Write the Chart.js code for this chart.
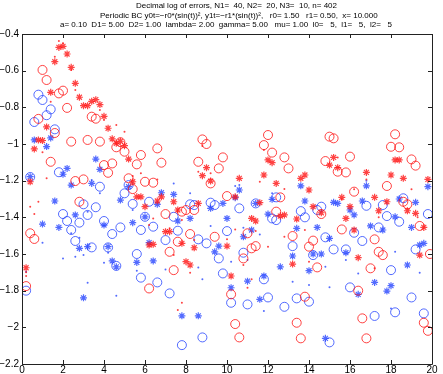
<!DOCTYPE html>
<html>
<head>
<meta charset="utf-8">
<script src="https://cdn.jsdelivr.net/npm/chart.js@4"></script>
<style>
  body { margin: 0; background: #fff; }
  canvas { display: block; }
</style>
</head>
<body>
<canvas id="errChart" width="443" height="374"></canvas>
<script>
// title lines
const titleLines = [
    'Decimal log of errors, N1=  40, N2=  20, N3=  10, n= 402',
    'Periodic BC y0t=\u2212r0*(sin(t))\u00B2, y1t=\u2212r1*(sin(t))\u00B2,   r0= 1.50   r1= 0.50,  x= 10.000',
    'a= 0.10  D1= 5.00  D2= 1.00  lambda= 2.00  gamma= 5.00   mu= 1.00  l0=   5,  l1=   5,  l2=   5'
];

const xTicks = [0, 2, 4, 6, 8, 10, 12, 14, 16, 18, 20];
const yTicks = [-0.4, -0.6, -0.8, -1, -1.2, -1.4, -1.6, -1.8, -2, -2.2];

// red circles
const redCircles = [[0.2,-1.775],[0.4,-1.487],[0.6,-1.518],[0.8,-0.863],[1.0,-0.596],[1.2,-0.651],[1.4,-1.097],[1.6,-0.94],[1.8,-0.724],[2.0,-0.709],[2.2,-0.803],[2.4,-0.987],[2.6,-1.202],[2.8,-1.315],[3.0,-1.193],[3.2,-0.978],[3.4,-0.851],[3.6,-0.862],[3.8,-0.987],[4.0,-1.115],[4.2,-1.157],[4.4,-1.106],[4.6,-1.018],[4.8,-0.99],[5.0,-1.042],[5.2,-1.187],[5.4,-1.246],[5.6,-1.111],[5.8,-1.06],[6.0,-1.206],[6.2,-1.788],[6.4,-1.211],[6.6,-1.024],[6.8,-1.102],[7.0,-1.382],[7.2,-1.588],[7.4,-1.688],[7.6,-1.533],[7.8,-1.369],[8.0,-1.36],[8.2,-1.491],[8.4,-1.36],[8.6,-1.097],[8.8,-0.975],[9.0,-1.0],[9.2,-1.215],[9.4,-1.506],[9.6,-1.133],[9.8,-1.073],[10.0,-1.284],[10.2,-1.82],[10.4,-1.982],[10.6,-2.055],[10.8,-1.624],[11.0,-1.487],[11.2,-1.569],[11.4,-1.557],[11.8,-1.006],[12.0,-0.951],[12.2,-1.047],[12.4,-1.369],[12.6,-1.291],[12.8,-1.073],[13.0,-1.133],[13.2,-1.502],[13.4,-1.975],[13.6,-2.06],[13.8,-1.833],[14.0,-1.56],[14.2,-1.527],[14.4,-1.673],[14.6,-1.382],[14.8,-1.093],[15.0,-0.96],[15.2,-0.969],[15.4,-1.151],[15.6,-1.466],[15.8,-1.155],[16.0,-1.069],[16.2,-1.26],[16.4,-1.80],[16.6,-1.951],[16.8,-2.06],[17.0,-1.678],[17.2,-1.52],[17.4,-1.588],[17.6,-1.606],[17.8,-1.229],[18.0,-1.015],[18.2,-0.947],[18.4,-1.018],[18.6,-1.315],[18.8,-1.329],[19.0,-1.084],[19.2,-1.118],[19.4,-1.447],[19.6,-1.975],[19.8,-2.019],[19.9,-1.6]];

// red stars
const redStars = [[0.2,-1.675],[0.4,-1.206],[0.6,-1.027],[0.8,-0.978],[1.0,-0.981],[1.2,-0.907],[1.4,-0.718],[1.6,-0.551],[1.8,-0.473],[2.0,-0.467],[2.2,-0.509],[2.4,-0.582],[2.6,-0.669],[2.8,-0.745],[3.0,-0.791],[3.2,-0.791],[3.4,-0.767],[3.6,-0.758],[3.8,-0.785],[4.0,-0.849],[4.2,-0.914],[4.4,-0.972],[4.6,-0.996],[4.8,-0.985],[5.0,-1.009],[5.2,-1.082],[5.4,-1.206],[5.6,-1.288],[5.8,-1.288],[6.0,-1.342],[6.2,-1.551],[6.4,-1.547],[6.6,-1.311],[6.8,-1.288],[7.0,-1.478],[7.2,-1.478],[7.4,-1.315],[7.6,-1.36],[7.8,-1.542],[8.0,-1.642],[8.2,-1.66],[8.4,-1.566],[8.6,-1.324],[8.8,-1.173],[9.0,-1.129],[9.2,-1.202],[10.0,-1.557],[10.2,-1.72],[10.4,-1.288],[10.6,-1.187],[11.2,-1.406],[11.4,-1.42],[11.6,-1.32],[11.8,-1.169],[12.0,-1.087],[12.2,-1.102],[12.4,-1.215],[12.6,-1.393],[12.8,-1.387],[13.2,-1.655],[13.4,-1.409],[13.6,-1.187],[13.8,-1.169],[14.0,-1.251],[14.2,-1.342],[14.6,-1.375],[15.0,-1.115],[15.2,-1.073],[15.4,-1.129],[15.6,-1.291],[15.8,-1.406],[16.0,-1.342],[16.2,-1.469],[16.4,-1.62],[16.8,-1.155],[17.2,-1.291],[17.4,-1.364],[17.8,-1.315],[18.0,-1.169],[18.2,-1.087],[18.4,-1.087],[18.6,-1.187],[18.8,-1.364],[19.2,-1.378],[19.4,-1.606],[19.6,-1.455],[19.8,-1.193]];

// red dots
const redDots = [[0.2,-1.70],[0.2,-1.72],[0.4,-1.342],[0.6,-1.382],[0.8,-1.315],[1.0,-1.045],[1.2,-1.187],[1.4,-0.769],[1.6,-0.524],[1.8,-0.438],[2.0,-0.451],[2.4,-0.596],[2.6,-0.706],[3.8,-0.815],[4.0,-0.869],[4.6,-0.896],[5.0,-0.933],[5.4,-1.175],[5.8,-1.16],[6.2,-1.442],[6.4,-1.406],[6.6,-1.193],[7.2,-1.46],[7.4,-1.606],[7.6,-1.906],[7.8,-1.415],[7.8,-1.866],[8.2,-1.702],[8.4,-1.524],[8.6,-1.151],[8.8,-1.011],[9.2,-1.16],[10.0,-1.52],[10.4,-1.466],[10.8,-1.66],[11.0,-1.784],[11.2,-1.738],[11.4,-1.475],[11.6,-1.206],[11.8,-1.033],[12.0,-1.56],[12.8,-1.246],[12.8,-1.506],[13.8,-1.469],[14.0,-1.642],[15.4,-1.073],[15.6,-1.302],[16.2,-1.247],[16.8,-1.193],[17.2,-1.678],[17.4,-1.4],[19.0,-1.247],[19.3,-1.4]];

// blue circles
const blueCircles = [[0.2,-1.80],[0.4,-1.18],[0.6,-0.88],[0.8,-0.731],[1.0,-0.76],[1.2,-0.843],[1.4,-0.811],[1.6,-0.92],[1.8,-1.154],[2.0,-1.382],[2.2,-1.42],[2.4,-1.469],[2.6,-1.529],[2.8,-1.429],[3.0,-1.329],[3.2,-1.387],[3.4,-1.564],[3.6,-1.345],[3.8,-1.233],[4.0,-1.42],[4.2,-1.564],[4.4,-1.491],[4.6,-1.665],[4.8,-1.455],[5.0,-1.269],[5.2,-1.224],[5.4,-1.327],[5.6,-1.6],[5.8,-1.729],[5.8,-1.469],[6.0,-1.397],[6.2,-1.315],[6.4,-1.451],[6.6,-1.755],[7.0,-1.524],[7.2,-1.815],[7.4,-1.397],[7.6,-1.473],[7.8,-2.097],[8.2,-1.329],[8.4,-1.333],[8.6,-1.52],[8.8,-2.055],[9.0,-1.542],[9.2,-1.32],[9.4,-1.333],[9.6,-1.624],[9.8,-1.706],[10.0,-1.475],[10.2,-1.866],[10.6,-1.351],[10.8,-1.593],[11.0,-1.875],[11.4,-1.324],[11.8,-1.738],[12.0,-1.837],[12.2,-1.406],[12.4,-1.291],[12.4,-1.415],[12.8,-1.888],[13.2,-1.557],[13.4,-1.842],[13.6,-1.366],[13.8,-1.40],[14.0,-1.86],[14.2,-1.606],[14.4,-1.36],[14.6,-1.342],[14.8,-1.509],[15.0,-2.082],[15.2,-1.575],[15.8,-1.575],[16.0,-1.782],[16.2,-1.484],[16.6,-1.529],[16.8,-1.337],[17.2,-1.938],[17.4,-1.455],[17.6,-1.333],[17.8,-1.393],[18.0,-1.688],[18.2,-1.918],[18.4,-1.424],[18.6,-1.296],[19.0,-1.837],[19.2,-1.575],[19.6,-1.924],[19.8,-1.382]];

// blue stars
const blueStars = [[0.4,-1.178],[0.6,-0.978],[1.0,-1.437],[1.2,-1.014],[1.4,-0.967],[1.6,-1.311],[1.8,-1.455],[2.0,-1.165],[2.2,-1.133],[2.4,-1.224],[2.6,-1.387],[2.8,-1.569],[3.0,-1.839],[3.2,-1.56],[3.4,-1.215],[3.6,-1.082],[3.8,-1.138],[4.0,-1.442],[4.2,-1.56],[4.4,-1.638],[4.6,-1.67],[4.8,-1.306],[5.2,-1.233],[5.4,-1.429],[5.6,-1.646],[6.0,-1.397],[6.2,-1.538],[6.4,-1.638],[6.6,-1.329],[6.8,-1.266],[7.4,-1.275],[7.6,-1.42],[7.8,-1.937],[8.2,-1.406],[8.6,-1.937],[9.2,-1.351],[9.4,-1.588],[9.6,-1.557],[9.8,-1.324],[10.0,-1.406],[10.2,-1.784],[10.4,-1.293],[10.6,-1.251],[10.8,-1.506],[11.0,-1.748],[11.2,-1.469],[11.4,-1.324],[11.6,-1.847],[11.8,-1.72],[12.0,-1.382],[12.2,-1.302],[12.6,-1.67],[13.2,-1.611],[13.4,-1.46],[13.6,-1.228],[13.8,-1.311],[14.0,-1.691],[14.2,-1.60],[14.4,-1.455],[14.6,-1.6],[14.8,-2.06],[15.0,-1.515],[15.2,-1.318],[15.4,-1.324],[15.8,-1.593],[16.0,-1.36],[16.2,-1.387],[16.4,-1.82],[16.6,-1.311],[16.8,-1.228],[17.0,-1.447],[17.2,-1.755],[17.6,-1.469],[17.8,-1.802],[18.0,-1.773],[18.2,-1.397],[18.4,-1.30],[18.8,-1.66],[19.0,-1.455],[19.2,-1.318],[19.4,-1.551],[19.6,-1.542],[19.8,-1.233]];

// blue dots
const blueDots = [[0.2,-1.697],[1.0,-1.538],[2.0,-1.624],[2.4,-1.487],[2.6,-1.615],[2.8,-1.511],[3.0,-1.606],[3.2,-1.369],[3.2,-1.757],[3.4,-1.197],[3.8,-1.269],[4.0,-1.648],[4.2,-1.593],[4.6,-1.828],[5.4,-1.36],[5.6,-1.691],[7.0,-1.684],[7.4,-1.215],[8.2,-1.269],[8.6,-1.673],[8.8,-1.738],[9.2,-1.447],[10.2,-1.642],[10.4,-1.229],[10.6,-1.224],[10.8,-1.457],[11.0,-1.633],[11.6,-1.493],[11.8,-1.911],[12.2,-1.269],[13.2,-1.751],[14.0,-1.769],[14.8,-1.669],[15.0,-1.782],[15.8,-1.633],[16.4,-1.706],[16.8,-1.2],[18.0,-1.897],[18.2,-1.588],[19.4,-1.702]];

const RED = 'rgba(255,20,20,0.8)';
const BLUE = 'rgba(40,70,255,0.8)';

const pts = arr => arr.map(p => ({ x: p[0], y: p[1] }));

const minusFmt = v => {
    const r = Math.round(v * 10) / 10;
    return String(r).replace('-', '\u2212');
};

// title + boxed axes with inward ticks, matlab style
const framePlugin = {
    id: 'frame',
    afterDraw(chart) {
        const ctx = chart.ctx;
        const a = chart.chartArea;
        const xs = chart.scales.x, ys = chart.scales.y;
        ctx.save();
        ctx.strokeStyle = '#222';
        ctx.lineWidth = 1;
        ctx.beginPath();
        ctx.rect(Math.round(a.left) + 0.5, Math.round(a.top) + 0.5,
            Math.round(a.right - a.left), Math.round(a.bottom - a.top));
        const tl = 4;
        xTicks.forEach(v => {
            const px = Math.round(xs.getPixelForValue(v)) + 0.5;
            ctx.moveTo(px, a.bottom); ctx.lineTo(px, a.bottom - tl);
            ctx.moveTo(px, a.top); ctx.lineTo(px, a.top + tl);
        });
        yTicks.forEach(v => {
            const py = Math.round(ys.getPixelForValue(v)) + 0.5;
            ctx.moveTo(a.left, py); ctx.lineTo(a.left + tl, py);
            ctx.moveTo(a.right, py); ctx.lineTo(a.right - tl, py);
        });
        ctx.stroke();

        ctx.fillStyle = '#000';
        ctx.font = '8px "Liberation Sans", Arial, sans-serif';
        ctx.textAlign = 'left';
        ctx.textBaseline = 'middle';
        ctx.fillText(titleLines[0], 136, 6);
        ctx.fillText(titleLines[1], 100, 15.5);
        ctx.fillText(titleLines[2], 60, 25);
        ctx.restore();
    }
};

const config = {
    type: 'scatter',
    data: {
        datasets: [
            { data: pts(redCircles), pointStyle: 'circle', pointRadius: 4.5, borderColor: RED, backgroundColor: 'rgba(0,0,0,0)', borderWidth: 1 },
            { data: pts(redStars), pointStyle: 'star', pointRadius: 3.5, borderColor: RED, backgroundColor: RED, borderWidth: 1.2 },
            { data: pts(redDots), pointStyle: 'circle', pointRadius: 1, borderColor: RED, backgroundColor: RED, borderWidth: 0 },
            { data: pts(blueCircles), pointStyle: 'circle', pointRadius: 4.5, borderColor: BLUE, backgroundColor: 'rgba(0,0,0,0)', borderWidth: 1 },
            { data: pts(blueStars), pointStyle: 'star', pointRadius: 3.5, borderColor: BLUE, backgroundColor: BLUE, borderWidth: 1.2 },
            { data: pts(blueDots), pointStyle: 'circle', pointRadius: 1, borderColor: BLUE, backgroundColor: BLUE, borderWidth: 0 }
        ]
    },
    options: {
        responsive: false,
        animation: false,
        layout: { padding: { top: 34, right: 11, left: 0, bottom: 0 } },
        plugins: {
            legend: { display: false },
            tooltip: { enabled: false }
        },
        scales: {
            x: {
                type: 'linear',
                min: 0,
                max: 20,
                afterFit: s => { s.height = 10; },
                afterBuildTicks: s => { s.ticks = xTicks.map(v => ({ value: v })); },
                grid: { display: false, drawTicks: false },
                border: { display: false },
                ticks: {
                    padding: 0,
                    maxRotation: 0,
                    color: '#000',
                    font: { family: '"Liberation Sans", Arial, sans-serif', size: 10 },
                    callback: v => minusFmt(v)
                }
            },
            y: {
                type: 'linear',
                min: -2.2,
                max: -0.4,
                afterFit: s => { s.width = 22; },
                afterBuildTicks: s => { s.ticks = yTicks.map(v => ({ value: v })); },
                grid: { display: false, drawTicks: false },
                border: { display: false },
                ticks: {
                    padding: 3,
                    color: '#000',
                    font: { family: '"Liberation Sans", Arial, sans-serif', size: 10 },
                    callback: v => minusFmt(v)
                }
            }
        }
    },
    plugins: [framePlugin]
};

const myChart = new Chart(document.getElementById('errChart'), config);
</script>
</body>
</html>
